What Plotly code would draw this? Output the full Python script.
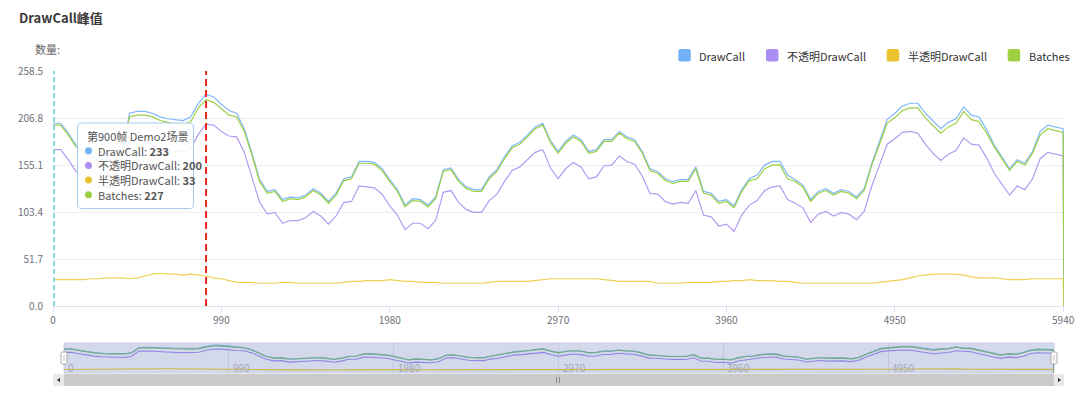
import plotly.graph_objects as go

W, H = 1080, 397

# ---------------- data ----------------
frames = list(range(0, 5941, 45)) + [5945]

drawcall = [
    201, 201, 190, 177, 170, 165, 160, 162, 160, 168,
    212, 214, 214, 212, 208, 206, 205, 204, 208, 223,
    233, 230, 222, 215, 212, 195, 168, 139, 126, 128,
    117, 120, 119, 122, 129, 124, 115, 124, 140, 142,
    159, 159, 158, 151, 139, 128, 111, 118, 117, 111,
    120, 150, 152, 139, 131, 128, 128, 142, 150, 164,
    176, 180, 188, 197, 201, 182, 170, 181, 188, 183,
    170, 172, 183, 183, 192, 186, 183, 170, 151, 148,
    140, 137, 139, 139, 153, 126, 124, 115, 117, 110,
    128, 140, 144, 155, 159, 159, 144, 139, 133, 117,
    126, 129, 124, 128, 126, 120, 129, 157, 181, 205,
    212, 220, 223, 223, 212, 203, 195, 202, 206, 219,
    210, 208, 194, 177, 164, 151, 161, 157, 170, 192,
    199, 197, 195, 0,
]

opaque = [
    172, 172, 161, 148, 141, 135, 130, 131, 129, 137,
    182, 183, 181, 177, 172, 171, 170, 170, 173, 189,
    200, 199, 192, 187, 186, 169, 142, 114, 101, 103,
    91, 94, 94, 97, 104, 99, 90, 99, 114, 115,
    132, 131, 130, 123, 110, 100, 84, 91, 91, 85,
    94, 125, 127, 114, 106, 103, 103, 116, 123, 137,
    149, 153, 161, 169, 172, 152, 140, 151, 158, 153,
    140, 142, 154, 155, 165, 159, 156, 143, 124, 123,
    115, 112, 114, 113, 127, 100, 98, 88, 90, 82,
    100, 111, 116, 127, 131, 132, 117, 113, 108, 92,
    101, 104, 99, 103, 101, 95, 104, 132, 155, 178,
    184, 191, 192, 190, 178, 168, 160, 167, 171, 185,
    178, 177, 163, 146, 134, 122, 132, 128, 140, 162,
    169, 167, 165, 0,
]

transparent = [
    29, 29, 29, 29, 29, 30, 30, 31, 31, 31,
    30, 31, 33, 35, 36, 35, 35, 34, 35, 34,
    33, 31, 30, 28, 26, 26, 26, 25, 25, 25,
    26, 26, 25, 25, 25, 25, 25, 25, 26, 27,
    27, 28, 28, 28, 29, 28, 27, 27, 26, 26,
    26, 25, 25, 25, 25, 25, 25, 26, 27, 27,
    27, 27, 27, 28, 29, 30, 30, 30, 30, 30,
    30, 30, 29, 28, 27, 27, 27, 27, 27, 25,
    25, 25, 25, 26, 26, 26, 26, 27, 27, 28,
    28, 29, 28, 28, 28, 27, 27, 26, 25, 25,
    25, 25, 25, 25, 25, 25, 25, 25, 26, 27,
    28, 29, 31, 33, 34, 35, 35, 35, 35, 34,
    32, 31, 31, 31, 30, 29, 29, 29, 30, 30,
    30, 30, 30, 0,
]

batches = [
    199, 199, 188, 175, 168, 163, 158, 160, 158, 166,
    208, 210, 210, 208, 204, 202, 200, 199, 203, 218,
    227, 224, 217, 210, 208, 192, 166, 137, 124, 126,
    115, 118, 117, 120, 127, 122, 113, 122, 138, 140,
    157, 157, 156, 149, 137, 126, 109, 116, 115, 109,
    118, 148, 150, 137, 129, 126, 126, 140, 148, 162,
    174, 178, 186, 195, 199, 180, 168, 179, 186, 181,
    168, 170, 181, 181, 190, 184, 181, 168, 149, 146,
    138, 135, 137, 137, 151, 124, 122, 113, 115, 108,
    126, 138, 140, 151, 155, 155, 140, 137, 131, 115,
    124, 127, 122, 126, 124, 118, 127, 155, 178, 201,
    207, 215, 218, 218, 207, 198, 190, 197, 201, 214,
    205, 203, 190, 175, 162, 149, 159, 155, 168, 188,
    195, 193, 191, 0,
]

series_names = ["DrawCall", "不透明DrawCall", "半透明DrawCall", "Batches"]
x_tick_vals = [0, 990, 1980, 2970, 3960, 4950, 5940]
x_tick_text = ["0", "990", "1980", "2970", "3960", "4950", "5940"]
y_tick_vals = [0, 51.7, 103.4, 155.1, 206.8, 258.5]
y_tick_text = ["0.0", "51.7", "103.4", "155.1", "206.8", "258.5"]
mark_frame = 900
scene_name = "Demo2场景"

# ---------------- styling ----------------
FONT = "Microsoft YaHei, 'Noto Sans CJK SC', 'Noto Sans', sans-serif"
colors = ["#73b1f7", "#ab8ff0", "#eac22d", "#9fd041"]
line_colors = ["#80b9f8", "#b49af2", "#efcf55", "#9ccf45"]


def px(x):
    return x / W


def py(y):
    return 1 - y / H


def rrect(x0, y0, x1, y1, r):
    pts = [
        ("M", [(x0 + r, y0)]),
        ("L", [(x1 - r, y0)]),
        ("Q", [(x1, y0), (x1, y0 + r)]),
        ("L", [(x1, y1 - r)]),
        ("Q", [(x1, y1), (x1 - r, y1)]),
        ("L", [(x0 + r, y1)]),
        ("Q", [(x0, y1), (x0, y1 - r)]),
        ("L", [(x0, y0 + r)]),
        ("Q", [(x0, y0), (x0 + r, y0)]),
    ]
    s = ""
    for cmd, ps in pts:
        s += cmd + " " + " ".join(f"{px(a):.5f},{py(b):.5f}" for a, b in ps) + " "
    return s + "Z"


def poly(points):
    return "M " + " L ".join(f"{px(a):.5f},{py(b):.5f}" for a, b in points) + " Z"


series = [drawcall, opaque, transparent, batches]

fig = go.Figure()

# main chart traces
for name, vals, lc in zip(series_names, series, line_colors):
    fig.add_trace(go.Scatter(
        x=frames, y=vals, name=name, mode="lines",
        line=dict(color=lc, width=1.2),
        hoverinfo="skip", showlegend=False,
        xaxis="x", yaxis="y",
    ))

# data-zoom preview traces
mini_colors = ["#7aa6e6", "#8f86e4", "#c9b845", "#72ad86"]
for name, vals, mc in zip(series_names, series, mini_colors):
    fig.add_trace(go.Scatter(
        x=frames, y=vals, name=name, mode="lines",
        line=dict(color=mc, width=1.1),
        hoverinfo="skip", showlegend=False,
        xaxis="x2", yaxis="y2",
    ))

shapes = []
annotations = []

# slider background
shapes.append(dict(type="rect", xref="paper", yref="paper",
                   x0=px(64), x1=px(1054), y0=py(373), y1=py(343),
                   fillcolor="#d3d9ea", line=dict(color="#c9d0e4", width=1),
                   layer="below"))
# slider labels
for v, t in zip(x_tick_vals[:-1], x_tick_text[:-1]):
    annotations.append(dict(x=v, y=py(367.5), xref="x2", yref="paper",
                            xanchor="left", yanchor="middle", xshift=2, showarrow=False,
                            text=t, font=dict(size=10, color="#a3a9ba", family=FONT)))
# scrollbar
shapes.append(dict(type="rect", xref="paper", yref="paper",
                   x0=px(53), x1=px(1064), y0=py(386), y1=py(374),
                   fillcolor="#e9e9e9", line=dict(width=0), layer="below"))
shapes.append(dict(type="rect", xref="paper", yref="paper",
                   x0=px(64), x1=px(1054), y0=py(386), y1=py(374),
                   fillcolor="#cbcbcb", line=dict(width=0), layer="below"))
for gx in (556.5, 559.5):
    shapes.append(dict(type="line", xref="paper", yref="paper",
                       x0=px(gx), x1=px(gx), y0=py(383), y1=py(377),
                       line=dict(color="#8a8a8a", width=1)))
shapes.append(dict(type="path", xref="paper", yref="paper",
                   path=poly([(57, 380), (60, 377.8), (60, 382.2)]),
                   fillcolor="#333333", line=dict(width=0)))
shapes.append(dict(type="path", xref="paper", yref="paper",
                   path=poly([(1061, 380), (1058, 377.8), (1058, 382.2)]),
                   fillcolor="#333333", line=dict(width=0)))
# slider handles
for hx in (64, 1054):
    shapes.append(dict(type="path", xref="paper", yref="paper",
                       path=rrect(hx - 3, 352, hx + 3, 364, 1.5),
                       fillcolor="#ffffff", line=dict(color="#a8a8a8", width=1)))
    shapes.append(dict(type="line", xref="paper", yref="paper",
                       x0=px(hx), x1=px(hx), y0=py(361), y1=py(355),
                       line=dict(color="#bbbbbb", width=1)))

# vertical marker lines (start-frame marker drawn just inside the plot edge)
shapes.append(dict(type="line", xref="paper", yref="paper",
                   x0=px(54), x1=px(54), y0=py(306), y1=py(71),
                   line=dict(color="#86dcdd", width=2, dash="5px,3px"), layer="above"))
shapes.append(dict(type="line", xref="x", yref="y", x0=mark_frame, x1=mark_frame, y0=0, y1=258.5,
                   line=dict(color="#e8261c", width=2, dash="7px,4px"), layer="above"))

# tooltip
shapes.append(dict(type="path", xref="paper", yref="paper",
                   path=rrect(77.5, 123, 193.5, 208.5, 4),
                   fillcolor="rgba(255,255,255,0.9)",
                   line=dict(color="#a6ccf2", width=1), layer="above"))
idx = frames.index(mark_frame)
annotations.append(dict(x=px(85), y=py(136), xref="paper", yref="paper",
                        xanchor="left", yanchor="middle", showarrow=False,
                        text=f"第{mark_frame}帧 {scene_name}",
                        font=dict(size=11, color="#555", family=FONT)))
for k, (name, vals, c) in enumerate(zip(series_names, series, colors)):
    cy = 150.7 + k * 14.7
    shapes.append(dict(type="circle", xref="paper", yref="paper",
                       x0=px(85), x1=px(92), y0=py(cy + 3.5), y1=py(cy - 3.5),
                       fillcolor=c, line=dict(width=0), layer="above"))
    annotations.append(dict(x=px(95.5), y=py(cy), xref="paper", yref="paper",
                            xanchor="left", yanchor="middle", showarrow=False,
                            text=f"{name}: <b>{vals[idx]}</b>",
                            font=dict(size=11, color="#555", family=FONT)))

# legend
icon_x = [678.3, 766.0, 886.7, 1007.7]
text_x = [697.0, 784.8, 905.5, 1026.5]
for name, c, ix, tx in zip(series_names, colors, icon_x, text_x):
    shapes.append(dict(type="path", xref="paper", yref="paper",
                       path=rrect(ix, 49, ix + 12.5, 61.5, 2.5),
                       fillcolor=c, line=dict(width=0)))
    annotations.append(dict(x=px(tx), y=py(55.5), xref="paper", yref="paper",
                            xanchor="left", yanchor="middle", showarrow=False,
                            text=name, font=dict(size=11, color="#333", family=FONT)))

# title and axis name
annotations.append(dict(x=px(17), y=py(17), xref="paper", yref="paper",
                        xanchor="left", yanchor="middle", showarrow=False,
                        text="<b>DrawCall峰值</b>",
                        font=dict(size=13, color="#3a3a3a", family=FONT)))
annotations.append(dict(x=px(33), y=py(49), xref="paper", yref="paper",
                        xanchor="left", yanchor="middle", showarrow=False,
                        text="数量:", font=dict(size=11, color="#666", family=FONT)))

fig.update_layout(
    width=W, height=H,
    margin=dict(l=0, r=0, t=0, b=0),
    paper_bgcolor="#ffffff", plot_bgcolor="rgba(0,0,0,0)",
    font=dict(family=FONT, size=10, color="#6e7079"),
    hovermode=False,
    showlegend=False,
    xaxis=dict(
        domain=[px(53), px(1064)], anchor="y", range=[0, 5945],
        tickmode="array", tickvals=x_tick_vals, ticktext=x_tick_text,
        showgrid=False, zeroline=False, showline=True, linecolor="#dde2f0", linewidth=1,
        ticks="outside", ticklen=5, tickcolor="#dde2f0",
        tickfont=dict(size=10, color="#6e7079", family=FONT),
        fixedrange=True, automargin=False,
    ),
    yaxis=dict(
        domain=[py(306), py(71)], anchor="x", range=[0, 258.5],
        tickmode="array", tickvals=y_tick_vals, ticktext=y_tick_text,
        showgrid=True, gridcolor="#eceef3", gridwidth=1,
        zeroline=False, showline=False, ticks="", ticklabelstandoff=9,
        tickfont=dict(size=10, color="#6e7079", family=FONT),
        fixedrange=True, automargin=False,
    ),
    xaxis2=dict(
        domain=[px(64), px(1054)], anchor="y2", range=[0, 5945],
        tickmode="array", tickvals=x_tick_vals, showticklabels=False,
        showgrid=True, gridcolor="#c2c9dd", zeroline=False, showline=False, ticks="",
        fixedrange=True, automargin=False,
    ),
    yaxis2=dict(
        domain=[py(373), py(343)], anchor="x2", range=[0, 250],
        showgrid=False, zeroline=False, showline=False, showticklabels=False, ticks="",
        fixedrange=True, automargin=False,
    ),
    shapes=shapes,
    annotations=annotations,
)

fig.write_html("out.html", config={"displayModeBar": False},
               post_script="document.body.style.margin='0';document.body.style.overflow='hidden';")
